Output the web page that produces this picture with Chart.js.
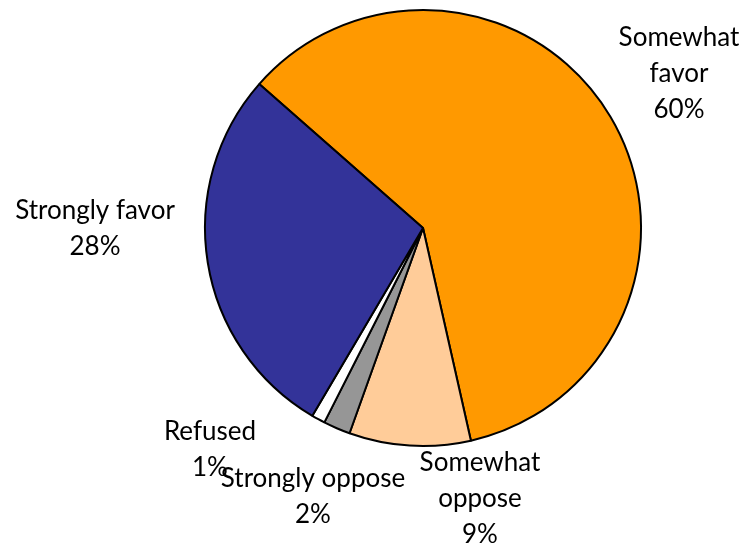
<!DOCTYPE html>
<html>
<head>
<meta charset="utf-8">
<script src="https://cdn.jsdelivr.net/npm/chart.js@4"></script>
<style>
    html, body { margin: 0; padding: 0; background: #fff; }
    #wrap { width: 743px; height: 550px; position: relative; }
</style>
</head>
<body>
<div id="wrap"><canvas id="pie"></canvas></div>
<script>
// slices go clockwise from the favor/strongly-favor boundary
const categories = ['Somewhat favor', 'Somewhat oppose', 'Strongly oppose', 'Refused', 'Strongly favor'];
const shares = [60, 9, 2, 1, 28];
const sliceColors = ['#FF9900', '#FFCC99', '#969696', '#FFFFFF', '#333399'];

// label text lines (wrapped like the original) and where each block sits
const labelLines = [
    ['Somewhat', 'favor'],
    ['Somewhat', 'oppose'],
    ['Strongly oppose'],
    ['Refused'],
    ['Strongly favor']
];
const labelAnchors = [
    { x: 679, y: 38 },
    { x: 480, y: 463 },
    { x: 313, y: 479 },
    { x: 210, y: 432 },
    { x: 95, y: 211 }
];
const lineGap = 36;

const outsideLabels = {
    id: 'outsideLabels',
    afterDraw(chart) {
        const ctx = chart.ctx;
        const values = chart.data.datasets[0].data;
        ctx.save();
        ctx.fillStyle = '#000';
        ctx.font = '26px Lato, "Open Sans", sans-serif';
        ctx.textAlign = 'center';
        ctx.textBaseline = 'middle';
        chart.data.labels.forEach((name, i) => {
            const a = labelAnchors[i];
            const lines = labelLines[i].concat([values[i] + '%']);
            lines.forEach((t, k) => {
                ctx.fillText(t, a.x, a.y + k * lineGap);
            });
        });
        ctx.restore();
    }
};

new Chart(document.getElementById('pie'), {
    type: 'pie',
    data: {
        labels: categories,
        datasets: [{
            data: shares,
            backgroundColor: sliceColors,
            borderColor: '#000',
            borderWidth: 2,
            radius: 218
        }]
    },
    options: {
        responsive: true,
        maintainAspectRatio: false,
        animation: false,
        rotation: -48.7,
        layout: { padding: { left: 103, right: 0, top: 0, bottom: 94 } },
        plugins: {
            legend: { display: false },
            tooltip: { enabled: false }
        }
    },
    plugins: [outsideLabels]
});
</script>
</body>
</html>
